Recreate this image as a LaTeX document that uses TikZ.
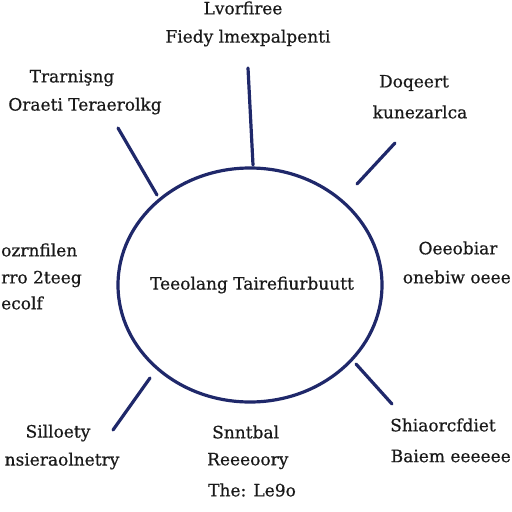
\documentclass[tikz,border=0pt]{standalone}
\usepackage{fontspec}
\setmainfont{DejaVu Serif}[FakeBold=0.6]
\usetikzlibrary{shapes.geometric}
\definecolor{navy}{HTML}{1F286A}
\begin{document}
\begin{tikzpicture}[x=1pt,y=-1pt,
  lbl/.style={font=\fontsize{17}{17}\selectfont, inner sep=0pt, text=black!90},
  spoke/.style={draw=navy, line width=3.2pt, line cap=round}]
\useasboundingbox (0,0) rectangle (512,512);
\node[draw=navy, line width=3.2pt, ellipse, minimum width=264pt, minimum height=234pt, inner sep=0pt] (hub) at (250,285) {};
\node[lbl] (c) at (252,285) {Teeolang Tairefiurbuutt};
% spokes
\coordinate (t1) at (248,68); \coordinate (t2) at (253,165);
\coordinate (ul1) at (118,128); \coordinate (ul2) at (157,195);
\coordinate (ur1) at (395,143); \coordinate (ur2) at (357,184);
\coordinate (ll1) at (150,378); \coordinate (ll2) at (113,430);
\coordinate (lr1) at (356,364); \coordinate (lr2) at (392,404);
\draw[spoke] (t1) -- (t2);
\draw[spoke] (ul1) -- (ul2);
\draw[spoke] (ur1) -- (ur2);
\draw[spoke] (ll1) -- (ll2);
\draw[spoke] (lr1) -- (lr2);
% labels
\node[lbl] (top1) at (243,8) {Lvorfiree};
\node[lbl] (top2) at (248,38) {Fiedy lmexpalpenti};
\node[lbl] (ul1t) at (72,78) {Trarnişng};
\node[lbl] (ul2t) at (85,106) {Oraeti Teraerolkg};
\node[lbl] (ur1t) at (414,83) {Doqeert};
\node[lbl] (ur2t) at (420,112) {kunezarlca};
\node[lbl, anchor=west] (l1) at (1,250) {ozrnfilen};
\node[lbl, anchor=west] (l2) at (1,279) {rro 2teeg};
\node[lbl, anchor=west] (l3) at (1,303) {ecolf};
\node[lbl] (r1) at (458,248) {Oeeobiar};
\node[lbl, anchor=east] (r2) at (511,277) {onebiw oeee};
\node[lbl] (ll1t) at (58,433) {Silloety};
\node[lbl] (ll2t) at (62,461) {nsieraolnetry};
\node[lbl, anchor=west] (b1) at (212,432) {Snntbal};
\node[lbl, anchor=west] (b2) at (207,461) {Reeeoory};
\node[lbl, anchor=west] (b3) at (208,490) {The: Le9o};
\node[lbl] (lr1t) at (443,425) {Shiaorcfdiet};
\node[lbl, anchor=east] (lr2t) at (511,456) {Baiem eeeeee};
\end{tikzpicture}
\end{document}
